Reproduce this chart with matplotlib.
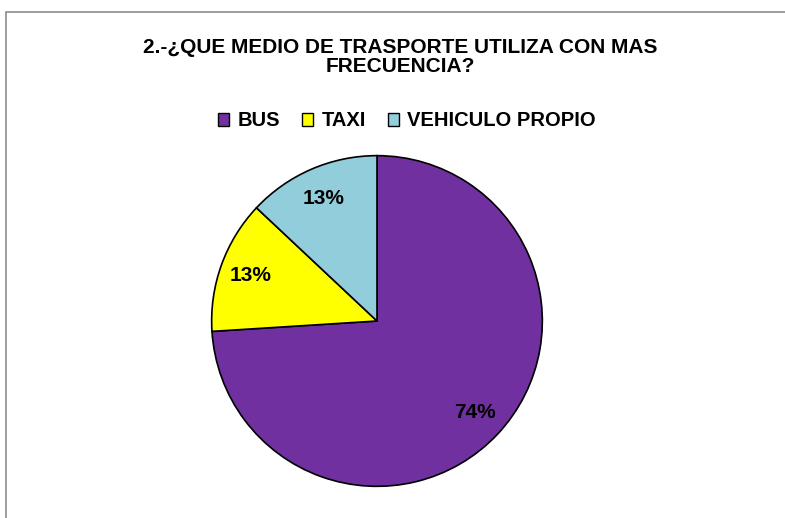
import matplotlib.pyplot as plt
import matplotlib.patches as patches

labels = ['BUS', 'TAXI', 'VEHICULO PROPIO']
values = [74, 13, 13]
colors = ['#7030A0', '#FFFF00', '#92CDDC']

plt.rcParams['font.family'] = ['Liberation Sans', 'DejaVu Sans']

fig = plt.figure(figsize=(7.85, 5.18), dpi=100)

# chart border (right and bottom edges run off the picture)
fig.patches.append(patches.Rectangle((6 / 785, -0.05), 1.0, 1 - 12 / 518 + 0.05,
                                     transform=fig.transFigure, fill=False,
                                     edgecolor='#8c8c8c', linewidth=1.2))

ax = fig.add_axes([209 / 785, 30 / 518, 336 / 785, 334 / 518])
wedges, texts, autotexts = ax.pie(values, colors=colors, startangle=90, counterclock=False,
                                  autopct='%1.0f%%', pctdistance=0.81, radius=1,
                                  wedgeprops=dict(edgecolor='black', linewidth=1.2),
                                  textprops=dict(fontsize=15, fontweight='bold', color='black'))
ax.set_xlim(-1.01, 1.01)
ax.set_ylim(-1.01, 1.01)
ax.set_aspect('equal')
ax.axis('off')

fig.text(400 / 785, 1 - 57 / 518, '2.-¿QUE MEDIO DE TRASPORTE UTILIZA CON MAS\nFRECUENCIA?',
         ha='center', va='center', fontsize=15, fontweight='bold', linespacing=1.05)

handles = [patches.Patch(facecolor=c, edgecolor='black', linewidth=1) for c in colors]
fig.legend(handles, labels, loc='center', bbox_to_anchor=(407 / 785, 1 - 121 / 518), ncol=3,
           frameon=False, handlelength=0.55, handleheight=0.6, handletextpad=0.4,
           columnspacing=1.1, prop=dict(size=14.5, weight='bold'))

fig.savefig('out.png', dpi=100)
